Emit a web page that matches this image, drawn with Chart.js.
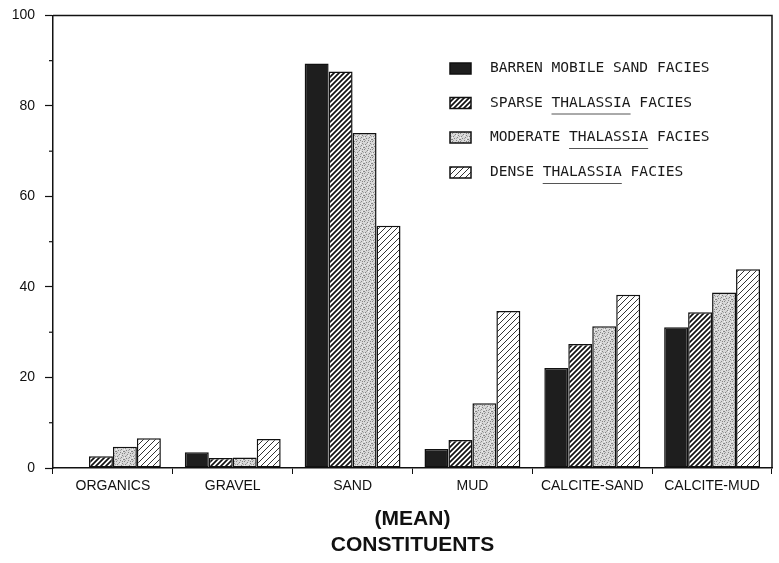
<!DOCTYPE html>
<html>
<head>
<meta charset="utf-8">
<script src="https://cdn.jsdelivr.net/npm/chart.js@4.4.0/dist/chart.umd.min.js"></script>
<style>
    html, body { margin: 0; padding: 0; background: #fff; overflow: hidden; }
    #wrap { position: absolute; left: -20px; top: -3px; width: 799px; height: 566px; }
</style>
</head>
<body>
<div id="wrap"><canvas id="constituents" width="799" height="566"></canvas></div>
<script>
var categories = ["ORGANICS", "GRAVEL", "SAND", "MUD", "CALCITE-SAND", "CALCITE-MUD"];
var seriesNames = ["BARREN MOBILE SAND FACIES", "SPARSE THALASSIA FACIES", "MODERATE THALASSIA FACIES", "DENSE THALASSIA FACIES"];
var barren = [0, 3.5, 89.4, 4.2, 22.1, 31.1];
var sparse = [2.6, 2.2, 87.6, 6.2, 27.4, 34.4];
var moderate = [4.7, 2.3, 74.0, 14.3, 31.3, 38.8];
var dense = [6.6, 6.4, 53.5, 34.7, 38.3, 43.9];
var yMajorTicks = [0, 20, 40, 60, 80, 100];

window.addEventListener("load", init);

// hatch / stipple fills like the printed figure
function makePattern(kind) {
    var c = document.createElement("canvas");
    var ctx = c.getContext("2d");
    if (kind === "stipple") {
        c.width = 8; c.height = 8;
        ctx.fillStyle = "#d8d8d8";
        ctx.fillRect(0, 0, 8, 8);
        var dots = [[0, 0], [3, 1], [6, 2], [1, 3], [5, 4], [2, 5], [7, 6], [4, 7], [0, 6], [6, 0]];
        ctx.fillStyle = "#858585";
        dots.forEach(function (d) { ctx.fillRect(d[0], d[1], 1, 1); });
        ctx.fillStyle = "#aaaaaa";
        [[2, 2], [7, 3], [4, 5], [1, 7]].forEach(function (d) { ctx.fillRect(d[0], d[1], 1, 1); });
        ctx.fillStyle = "#f2f2f2";
        [[4, 2], [0, 4], [6, 6]].forEach(function (d) { ctx.fillRect(d[0], d[1], 1, 1); });
        return ctx.createPattern(c, "repeat");
    }
    var s = kind === "heavy" ? 5 : 6;
    c.width = s; c.height = s;
    ctx.fillStyle = "#fff";
    ctx.fillRect(0, 0, s, s);
    ctx.strokeStyle = kind === "heavy" ? "#111" : "#333";
    ctx.lineWidth = kind === "heavy" ? 1.7 : 1.0;
    ctx.beginPath();
    ctx.moveTo(-1, s + 1); ctx.lineTo(s + 1, -1);
    ctx.moveTo(-1, 1); ctx.lineTo(1, -1);
    ctx.moveTo(s - 1, s + 1); ctx.lineTo(s + 1, s - 1);
    ctx.stroke();
    return ctx.createPattern(c, "repeat");
}

const frameAndLegend = {
    id: "frameAndLegend",
    afterDraw(chart) {
        const ctx = chart.ctx;
        const a = chart.chartArea;
        ctx.save();
        ctx.strokeStyle = "#111";
        ctx.lineWidth = 1.5;
        ctx.beginPath();
        ctx.moveTo(a.left, a.top); ctx.lineTo(a.right, a.top); ctx.lineTo(a.right, a.bottom);
        ctx.stroke();

        // minor y ticks
        const y = chart.scales.y;
        ctx.lineWidth = 1.2;
        [10, 30, 50, 70, 90].forEach(function (v) {
            const py = y.getPixelForValue(v);
            ctx.beginPath(); ctx.moveTo(a.left - 4, py); ctx.lineTo(a.left, py); ctx.stroke();
        });

        // legend (canvas is shifted 3px up, so rows are +3)
        const rows = [71.5, 106, 140.5, 175.5];
        ctx.font = "14.6px 'DejaVu Sans Mono'";
        ctx.textBaseline = "middle";
        chart.data.datasets.forEach(function (ds, i) {
            const ry = rows[i];
            ctx.fillStyle = ds.backgroundColor;
            ctx.fillRect(470, ry - 5.5, 21, 11);
            ctx.strokeStyle = "#111";
            ctx.lineWidth = 1.5;
            ctx.strokeRect(470, ry - 5.5, 21, 11);
            ctx.fillStyle = "#1a1a1a";
            ctx.fillText(ds.label, 510, ry);
            const k = ds.label.indexOf("THALASSIA");
            if (k >= 0) {
                const x0 = 510 + ctx.measureText(ds.label.slice(0, k)).width;
                const w = ctx.measureText("THALASSIA").width;
                ctx.lineWidth = 1;
                ctx.strokeStyle = "#555";
                ctx.beginPath(); ctx.moveTo(x0, ry + 11); ctx.lineTo(x0 + w, ry + 11); ctx.stroke();
            }
        });
        ctx.restore();
    }
};

function init() {
    Chart.defaults.font.family = "'Liberation Sans', Arial, sans-serif";
    Chart.defaults.color = "#111";

    const fills = ["#1e1e1e", makePattern("heavy"), makePattern("stipple"), makePattern("light")];
    const values = [barren, sparse, moderate, dense];

    const data = {
        labels: categories,
        datasets: values.map(function (v, i) {
            return {
                label: seriesNames[i],
                data: v,
                backgroundColor: fills[i],
                borderColor: "#111",
                borderWidth: 1.5,
                borderSkipped: false,
                barPercentage: 1.0,
                categoryPercentage: 0.8
            };
        })
    };

    const config = {
        type: "bar",
        data: data,
        options: {
            responsive: false,
            animation: false,
            layout: { padding: { top: 13, right: 7, bottom: 0, left: 0 } },
            plugins: {
                legend: { display: false },
                tooltip: { enabled: false }
            },
            scales: {
                x: {
                    grid: { display: true, drawOnChartArea: false, drawTicks: true, tickLength: 6, color: "#111", offset: true },
                    border: { display: true, color: "#111", width: 1.5 },
                    ticks: { font: { size: 14 }, padding: 4, maxRotation: 0 },
                    title: {
                        display: true,
                        text: ["(MEAN)", "CONSTITUENTS"],
                        font: { size: 21, weight: "bold", lineHeight: 1.24 },
                        padding: { top: 0, bottom: 5 }
                    },
                    afterFit: function (scale) { scale.height = 95; }
                },
                y: {
                    min: 0,
                    max: 100,
                    grid: {
                        drawOnChartArea: false, drawTicks: true, tickLength: 8, tickWidth: 1.2,
                        tickColor: function (c) { return yMajorTicks.indexOf(c.tick.value) >= 0 ? "#111" : "rgba(0,0,0,0)"; }
                    },
                    border: { display: true, color: "#111", width: 1.5 },
                    ticks: {
                        stepSize: 10,
                        padding: 10,
                        font: { size: 14 },
                        callback: function (v) { return yMajorTicks.indexOf(v) >= 0 ? v : ""; }
                    },
                    title: {
                        display: true,
                        text: "PERCENT",
                        font: { size: 18, weight: "bold" },
                        padding: { top: 3, bottom: 0 }
                    },
                    afterFit: function (scale) { scale.width = 73; }
                }
            }
        },
        plugins: [frameAndLegend]
    };
    const constituentsChart = new Chart(document.getElementById("constituents"), config);
}
</script>
</body>
</html>
